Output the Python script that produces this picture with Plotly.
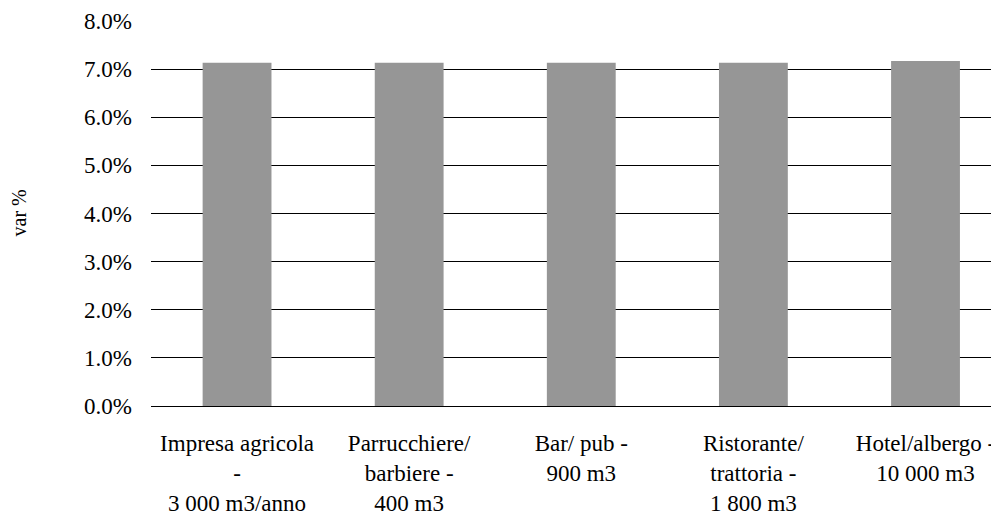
import plotly.graph_objects as go

categories = [
    "Impresa agricola<br>-<br>3 000 m3/anno",
    "Parrucchiere/<br>barbiere -<br>400 m3",
    "Bar/ pub -<br>900 m3",
    "Ristorante/<br>trattoria -<br>1 800 m3",
    "Hotel/albergo -<br>10 000 m3",
]
values = [0.0713, 0.0713, 0.0713, 0.0713, 0.0717]
y_ticks = [0, 0.01, 0.02, 0.03, 0.04, 0.05, 0.06, 0.07, 0.08]

FONT = "Liberation Serif"

fig = go.Figure(
    go.Bar(
        x=list(range(len(categories))),
        y=values,
        marker=dict(color="#969696", line=dict(width=0)),
        width=0.4,
    )
)

fig.update_layout(
    width=991,
    height=508,
    margin=dict(l=143, r=0, t=13, b=110, autoexpand=False),
    paper_bgcolor="white",
    plot_bgcolor="white",
    font=dict(family=FONT, size=23, color="black"),
    showlegend=False,
)

fig.update_xaxes(
    tickmode="array",
    tickvals=list(range(len(categories))),
    ticktext=categories,
    range=[-0.5, 4.427],
    showgrid=False,
    zeroline=False,
    showline=False,
    ticks="",
    ticklabelstandoff=21,
    tickfont=dict(family=FONT, size=23),
    automargin=False,
)

fig.update_yaxes(
    range=[0, 0.08],
    tickvals=y_ticks,
    tickformat=".1%",
    showgrid=True,
    gridcolor="black",
    gridwidth=1,
    zeroline=True,
    zerolinecolor="black",
    zerolinewidth=1,
    showline=False,
    ticks="",
    ticklabelstandoff=18,
    tickfont=dict(family=FONT, size=23),
    automargin=False,
)

fig.add_annotation(
    text="var %",
    xref="paper",
    yref="paper",
    x=0,
    y=0.5,
    xshift=-133,
    textangle=-90,
    showarrow=False,
    font=dict(family=FONT, size=20, color="black"),
    xanchor="center",
    yanchor="middle",
)

fig.write_html("out.html")
